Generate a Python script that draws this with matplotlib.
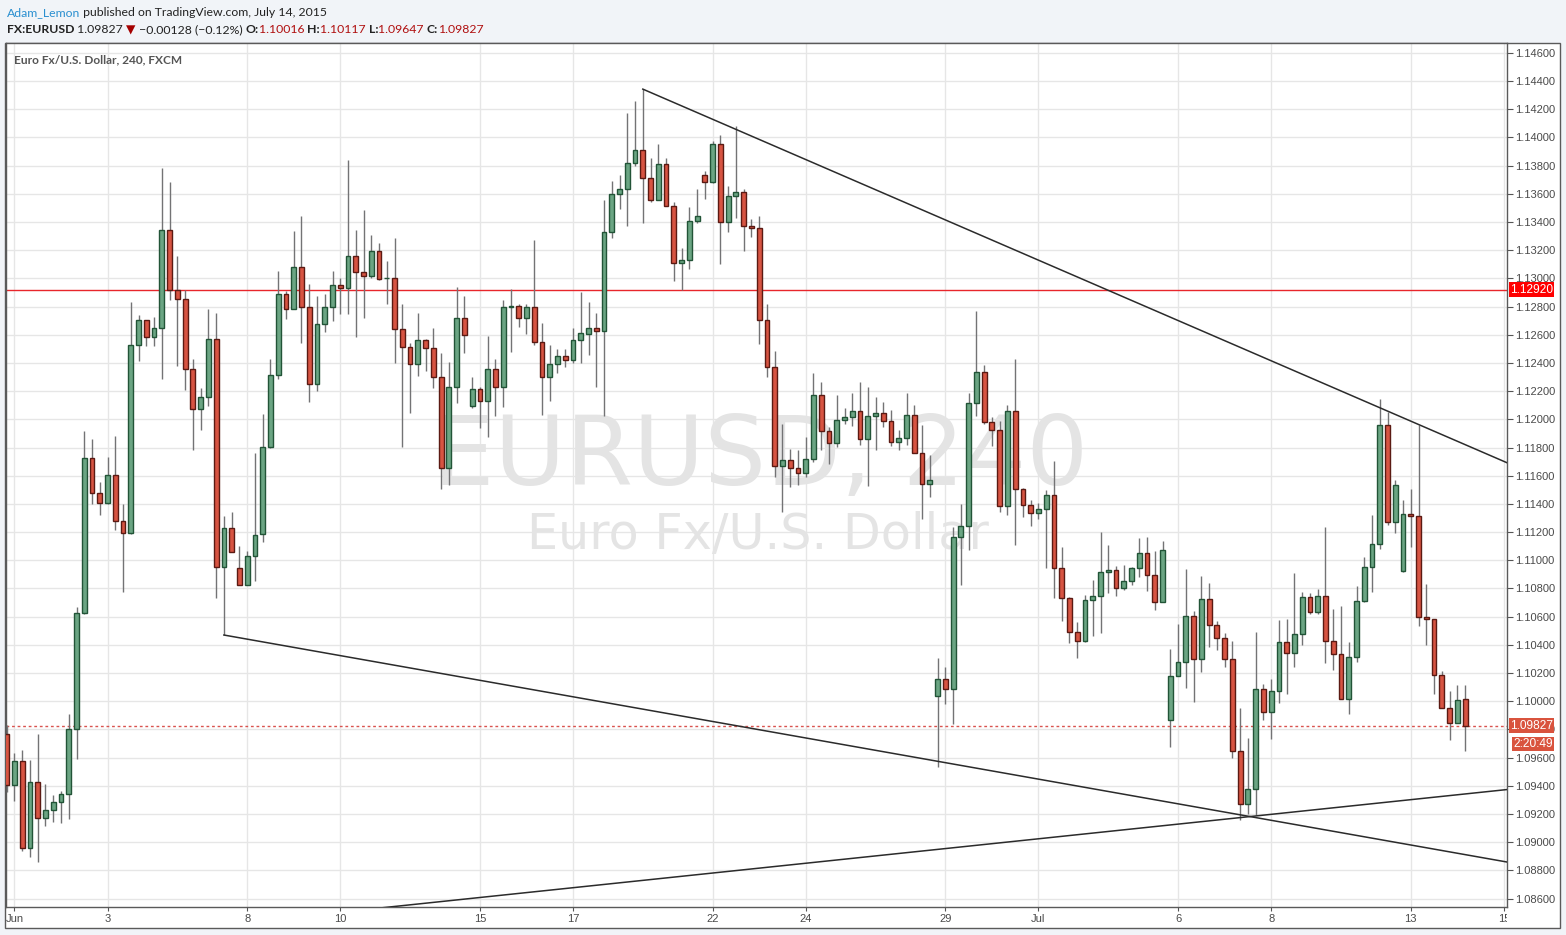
import matplotlib
matplotlib.use('Agg')
import matplotlib.pyplot as plt
import matplotlib.transforms as mtransforms
from matplotlib.patches import Rectangle
import numpy as np

# --- 데이터 (EURUSD 4H, FXCM) ---
opens = [
    1.09771, 1.09403, 1.09573, 1.08957, 1.09431, 1.09169, 1.09226, 1.09283, 1.09339, 1.09800,
    1.10628, 1.11726, 1.11478, 1.11407, 1.11606, 1.11280, 1.11195, 1.12526, 1.12704, 1.12583,
    1.12647, 1.13341, 1.12916, 1.12852, 1.12356, 1.12073, 1.12158, 1.12569, 1.10954, 1.11230,
    1.10947, 1.10827, 1.11032, 1.11185, 1.11803, 1.12311, 1.12891, 1.12783, 1.13083, 1.12800,
    1.12247, 1.12679, 1.12800, 1.12955, 1.12934, 1.13160, 1.13047, 1.13019, 1.13196, 1.13000,
    1.13005, 1.12644, 1.12516, 1.12389, 1.12559, 1.12509, 1.12297, 1.11652, 1.12226, 1.12721,
    1.12091, 1.12212, 1.12127, 1.12360, 1.12226, 1.12798, 1.12803, 1.12720, 1.12798, 1.12548,
    1.12303, 1.12395, 1.12451, 1.12423, 1.12565, 1.12607, 1.12650, 1.12628, 1.13329, 1.13598,
    1.13634, 1.13818, 1.13910, 1.13711, 1.13556, 1.13811, 1.13513, 1.13110, 1.13131, 1.13407,
    1.13733, 1.13683, 1.13952, 1.13400, 1.13584, 1.13612, 1.13372, 1.13360, 1.12703, 1.12370,
    1.11669, 1.11711, 1.11655, 1.11619, 1.11719, 1.12172, 1.11917, 1.11832, 1.11995, 1.12016,
    1.12058, 1.11860, 1.12023, 1.12044, 1.11988, 1.11839, 1.11867, 1.12030, 1.11761, 1.11542,
    1.10041, 1.10161, 1.10090, 1.11166, 1.11244, 1.12115, 1.12334, 1.11980, 1.11924, 1.11388,
    1.12060, 1.11508, 1.11395, 1.11338, 1.11366, 1.11465, 1.10942, 1.10736, 1.10493, 1.10430,
    1.10715, 1.10750, 1.10920, 1.10934, 1.10807, 1.10850, 1.10942, 1.11055, 1.10899, 1.10701,
    1.09865, 1.10177, 1.10276, 1.10602, 1.10302, 1.10729, 1.10538, 1.10451, 1.10302, 1.09646,
    1.09271, 1.09377, 1.10088, 1.09926, 1.10074, 1.10421, 1.10343, 1.10478, 1.10740, 1.10634,
    1.10747, 1.10428, 1.10336, 1.10018, 1.10315, 1.10711, 1.10952, 1.11115, 1.11958, 1.11271,
    1.10921, 1.11327, 1.11313, 1.10598, 1.10584, 1.10188, 1.09954, 1.09848, 1.10016,
]
highs = [
    1.09830, 1.09630, 1.09653, 1.09582, 1.09771, 1.09412, 1.09334, 1.09363, 1.09913, 1.10668,
    1.11920, 1.11863, 1.11558, 1.11735, 1.11884, 1.11396, 1.12833, 1.12741, 1.12704, 1.12727,
    1.13780, 1.13680, 1.13159, 1.12916, 1.12427, 1.12222, 1.12784, 1.12755, 1.11315, 1.11344,
    1.11103, 1.11067, 1.11761, 1.12037, 1.12426, 1.13050, 1.12908, 1.13333, 1.13439, 1.12962,
    1.12877, 1.12891, 1.13054, 1.13005, 1.13842, 1.13340, 1.13488, 1.13304, 1.13248, 1.13120,
    1.13283, 1.12821, 1.12542, 1.12757, 1.12573, 1.12651, 1.12467, 1.12410, 1.12941, 1.12873,
    1.12297, 1.12226, 1.12589, 1.12431, 1.12849, 1.12926, 1.12815, 1.12815, 1.13273, 1.12685,
    1.12529, 1.12501, 1.12496, 1.12650, 1.12900, 1.12829, 1.12756, 1.13558, 1.13693, 1.13735,
    1.14174, 1.14259, 1.14342, 1.13853, 1.13955, 1.13853, 1.13539, 1.13216, 1.13506, 1.13634,
    1.13763, 1.13976, 1.14018, 1.13655, 1.14082, 1.13634, 1.13420, 1.13440, 1.12818, 1.12486,
    1.11966, 1.11789, 1.11782, 1.11874, 1.12327, 1.12264, 1.11945, 1.12172, 1.12080, 1.12186,
    1.12264, 1.12228, 1.12157, 1.12122, 1.12065, 1.11924, 1.12186, 1.12101, 1.11959, 1.11747,
    1.10310, 1.10241, 1.11237, 1.11400, 1.12186, 1.12766, 1.12384, 1.12016, 1.11990, 1.12100,
    1.12430, 1.11515, 1.11430, 1.11409, 1.11501, 1.11701, 1.11093, 1.10743, 1.10564, 1.10755,
    1.10859, 1.11201, 1.11107, 1.10963, 1.10970, 1.10956, 1.11156, 1.11163, 1.11064, 1.11135,
    1.10370, 1.10550, 1.10937, 1.10637, 1.10892, 1.10842, 1.10566, 1.10481, 1.10425, 1.09955,
    1.09738, 1.10494, 1.10124, 1.10159, 1.10579, 1.10586, 1.10912, 1.10778, 1.10770, 1.10796,
    1.11238, 1.10657, 1.10678, 1.10421, 1.10820, 1.11025, 1.11323, 1.12144, 1.12052, 1.11570,
    1.11429, 1.11507, 1.11958, 1.10834, 1.10584, 1.10218, 1.10074, 1.10117, 1.10117,
]
lows = [
    1.09360, 1.09290, 1.08940, 1.08898, 1.08858, 1.09117, 1.09146, 1.09139, 1.09167, 1.09592,
    1.10620, 1.11400, 1.11322, 1.11400, 1.11214, 1.10775, 1.11188, 1.12411, 1.12517, 1.12517,
    1.12283, 1.12845, 1.12375, 1.12205, 1.11780, 1.11922, 1.12094, 1.10734, 1.10470, 1.11060,
    1.10827, 1.10827, 1.10855, 1.11133, 1.11794, 1.12287, 1.12712, 1.12783, 1.12542, 1.12122,
    1.12198, 1.12620, 1.12698, 1.12747, 1.12747, 1.12585, 1.12719, 1.13005, 1.12990, 1.12818,
    1.12396, 1.11806, 1.12042, 1.12308, 1.12344, 1.12224, 1.11504, 1.11532, 1.12113, 1.12467,
    1.12077, 1.11940, 1.11877, 1.12025, 1.12089, 1.12477, 1.12654, 1.12602, 1.12524, 1.12034,
    1.12130, 1.12329, 1.12371, 1.12400, 1.12400, 1.12456, 1.12229, 1.12024, 1.13284, 1.13490,
    1.13369, 1.13796, 1.13391, 1.13539, 1.13556, 1.13513, 1.12980, 1.12914, 1.13067, 1.13391,
    1.13560, 1.13674, 1.13103, 1.13327, 1.13428, 1.13192, 1.13290, 1.12537, 1.12297, 1.11589,
    1.11341, 1.11518, 1.11532, 1.11591, 1.11697, 1.11780, 1.11683, 1.11803, 1.11966, 1.11952,
    1.11818, 1.11527, 1.11782, 1.11945, 1.11811, 1.11782, 1.11818, 1.11761, 1.11294, 1.11447,
    1.09531, 1.09984, 1.09838, 1.10826, 1.11074, 1.12023, 1.11966, 1.11811, 1.11345, 1.11324,
    1.11109, 1.11307, 1.11244, 1.11293, 1.10942, 1.10734, 1.10571, 1.10415, 1.10309, 1.10422,
    1.10465, 1.10486, 1.10769, 1.10750, 1.10786, 1.10828, 1.10885, 1.10779, 1.10644, 1.10701,
    1.09679, 1.10177, 1.10097, 1.09998, 1.10210, 1.10387, 1.10366, 1.10245, 1.09596, 1.09157,
    1.09200, 1.09190, 1.09869, 1.09734, 1.09989, 1.10053, 1.10244, 1.10400, 1.10619, 1.10619,
    1.10272, 1.10223, 1.10018, 1.09911, 1.10280, 1.10704, 1.10775, 1.11080, 1.11250, 1.11193,
    1.10914, 1.11091, 1.10532, 1.10400, 1.10053, 1.09954, 1.09725, 1.09848, 1.09647,
]
closes = [
    1.09403, 1.09573, 1.08957, 1.09431, 1.09169, 1.09226, 1.09283, 1.09339, 1.09800, 1.10628,
    1.11726, 1.11478, 1.11407, 1.11606, 1.11280, 1.11195, 1.12526, 1.12704, 1.12583, 1.12647,
    1.13341, 1.12916, 1.12852, 1.12356, 1.12073, 1.12158, 1.12569, 1.10954, 1.11230, 1.11060,
    1.10827, 1.11032, 1.11181, 1.11803, 1.12311, 1.12891, 1.12783, 1.13083, 1.12800, 1.12247,
    1.12679, 1.12800, 1.12955, 1.12934, 1.13160, 1.13047, 1.13019, 1.13196, 1.12998, 1.13002,
    1.12644, 1.12516, 1.12389, 1.12559, 1.12509, 1.12297, 1.11652, 1.12226, 1.12721, 1.12601,
    1.12212, 1.12127, 1.12360, 1.12226, 1.12800, 1.12802, 1.12720, 1.12798, 1.12548, 1.12303,
    1.12395, 1.12451, 1.12423, 1.12565, 1.12609, 1.12650, 1.12628, 1.13329, 1.13598, 1.13634,
    1.13818, 1.13910, 1.13711, 1.13556, 1.13811, 1.13513, 1.13110, 1.13131, 1.13407, 1.13442,
    1.13683, 1.13952, 1.13400, 1.13584, 1.13612, 1.13372, 1.13360, 1.12703, 1.12370, 1.11669,
    1.11711, 1.11655, 1.11619, 1.11719, 1.12172, 1.11917, 1.11832, 1.11995, 1.12016, 1.12058,
    1.11860, 1.12023, 1.12044, 1.11988, 1.11839, 1.11867, 1.12030, 1.11761, 1.11542, 1.11570,
    1.10161, 1.10090, 1.11166, 1.11244, 1.12115, 1.12334, 1.11980, 1.11924, 1.11388, 1.12060,
    1.11508, 1.11395, 1.11338, 1.11366, 1.11465, 1.10942, 1.10736, 1.10493, 1.10430, 1.10715,
    1.10750, 1.10920, 1.10934, 1.10807, 1.10850, 1.10942, 1.11055, 1.10899, 1.10701, 1.11076,
    1.10177, 1.10276, 1.10602, 1.10302, 1.10729, 1.10538, 1.10451, 1.10302, 1.09646, 1.09271,
    1.09377, 1.10088, 1.09926, 1.10074, 1.10421, 1.10343, 1.10478, 1.10740, 1.10634, 1.10747,
    1.10428, 1.10336, 1.10018, 1.10315, 1.10711, 1.10952, 1.11115, 1.11958, 1.11271, 1.11533,
    1.11327, 1.11313, 1.10598, 1.10584, 1.10188, 1.09954, 1.09848, 1.10010, 1.09827,
]

date_ticks = [1, 13, 31, 43, 61, 73, 91, 103, 121, 133, 151, 163, 181, 193]
date_labels = ['Jun', '3', '8', '10', '15', '17', '22', '24', '29', 'Jul', '6', '8', '13', '15']
price_ticks = [1.086 + 0.002 * k for k in range(31)]

# 추세선 (캔들 인덱스, 가격)
trend_top = ([82, 193.4], [1.14342, 1.11692])
trend_low = ([28, 193.4], [1.10470, 1.08860])
trend_up = ([40, 193.4], [1.08487, 1.09374])
h_level = 1.12920
last_price = 1.09827

W, H = 1566, 935
AXIS_FONT = 'Liberation Sans'
fig = plt.figure(figsize=(W / 100, H / 100), dpi=100)
fig.patch.set_facecolor('#f1f4f8')

panel = Rectangle((5 / W, 1 - 928 / H), (1560 - 5) / W, (928 - 43) / H,
                  transform=fig.transFigure, fc='white', ec='#5a5a5a', lw=1, zorder=-5)
fig.patches.append(panel)

ax = fig.add_axes([6 / W, 1 - 907 / H, (1507 - 6) / W, (907 - 43) / H])
ax.set_zorder(2)
ax.set_xlim(-0.09, 193.4)
ax.set_ylim(1.08541, 1.14669)

# 그리드 / 축
ax.set_xticks(date_ticks)
ax.set_xticklabels(date_labels, family=AXIS_FONT)
ax.set_yticks(price_ticks)
ax.set_yticklabels([f'{p:.5f}' for p in price_ticks], family=AXIS_FONT)
ax.yaxis.tick_right()
ax.grid(True, color='#e6e6e6', lw=1, zorder=0)
ax.set_axisbelow(True)
ax.tick_params(axis='y', length=4, width=0.8, color='#555555', labelsize=8,
               labelcolor='#4a4a4a', pad=2)
ax.tick_params(axis='x', length=3, width=0.8, color='#555555', labelsize=8,
               labelcolor='#4a4a4a', pad=2)
for s in ax.spines.values():
    s.set_color('#5a5a5a')
    s.set_linewidth(1)

# 워터마크
ax.text(0.503, (907 - 485) / 864, 'EURUSD, 240', transform=ax.transAxes, ha='center',
        va='baseline', fontsize=70, color='#e4e4e4', family='DejaVu Sans', zorder=1)
ax.text(0.501, (907 - 549) / 864, 'Euro Fx/U.S. Dollar', transform=ax.transAxes,
        ha='center', va='baseline', fontsize=35.5, color='#e4e4e4', family='DejaVu Sans',
        zorder=1)

# 기준선
ax.axhline(h_level, color='#e8262b', lw=1, zorder=2)
ax.axhline(last_price, color='#d9534f', lw=1, ls=(0, (2, 2)), zorder=2)

# 캔들
o = np.array(opens)
h = np.array(highs)
l = np.array(lows)
c = np.array(closes)
x = np.arange(len(o))
up = c >= o
ax.vlines(x, l, h, color='#737375', lw=1, zorder=3)
bottom = np.minimum(o, c)
height = np.maximum(np.abs(c - o), 0.00005)
ax.bar(x[up], height[up], 0.62, bottom=bottom[up], color='#6ba583',
       edgecolor='#225437', lw=1, zorder=4)
ax.bar(x[~up], height[~up], 0.62, bottom=bottom[~up], color='#d75442',
       edgecolor='#5b1a13', lw=1, zorder=4)

# 추세선
for xs, ys in (trend_top, trend_low, trend_up):
    ax.plot(xs, ys, color='#2b2b2b', lw=1.1, zorder=5)

# 가격 라벨 (오른쪽 끝 정렬)
blend = mtransforms.blended_transform_factory(ax.transAxes, ax.transData)
x_right = (1553 - 6) / 1501
for txt, yv, fc in ((f'{h_level:.5f}', h_level, '#ff0000'),
                    (f'{last_price:.5f}', last_price, '#d9533e'),
                    ('2:20:49', last_price - 0.00128, '#d9533e')):
    ax.text(x_right, yv, txt, transform=blend, ha='right', va='center', family=AXIS_FONT,
            fontsize=8.6, color='white', clip_on=False, zorder=6,
            bbox=dict(boxstyle='square,pad=0.1', fc=fc, ec='none'))

# 마지막 날짜 라벨은 축 경계에서 잘림
clip_rect = Rectangle((0, 0), 1507 / W, 1, transform=fig.transFigure)
ax.get_xticklabels()[-1].set_clip_path(clip_rect)

ax.text(8 / 1501, (907 - 54) / 864, 'Euro Fx/U.S. Dollar, 240, FXCM', transform=ax.transAxes,
        ha='left', va='top', fontsize=8.6, fontweight='bold', color='#555555',
        family='Lato')

# 상단 헤더
fig.canvas.draw()
renderer = fig.canvas.get_renderer()


def draw_segments(x_px, y_px, segs):
    for txt, col, wt, fam in segs:
        t = fig.text(x_px / W, 1 - y_px / H, txt, color=col, fontweight=wt,
                     fontsize=8.8, family=fam, ha='left', va='baseline')
        x_px += t.get_window_extent(renderer).width


draw_segments(7, 16.5, [
    ('Adam_Lemon', '#2a8fd0', 'normal', 'Lato'),
    (' published on TradingView.com, July 14, 2015', '#222222', 'normal', 'Lato'),
])
draw_segments(7, 33.3, [
    ('FX:EURUSD', '#222222', 'bold', 'Lato'),
    (' 1.09827 ', '#222222', 'normal', 'Lato'),
    ('\u25bc', '#a50000', 'normal', 'DejaVu Sans'),
    (' \u22120.00128 (\u22120.12%) ', '#222222', 'normal', 'Lato'),
    ('O:', '#222222', 'bold', 'Lato'),
    ('1.10016 ', '#b01010', 'normal', 'Lato'),
    ('H:', '#222222', 'bold', 'Lato'),
    ('1.10117 ', '#b01010', 'normal', 'Lato'),
    ('L:', '#222222', 'bold', 'Lato'),
    ('1.09647 ', '#b01010', 'normal', 'Lato'),
    ('C:', '#222222', 'bold', 'Lato'),
    ('1.09827', '#b01010', 'normal', 'Lato'),
])

fig.savefig('out.png', dpi=100, facecolor=fig.get_facecolor())
